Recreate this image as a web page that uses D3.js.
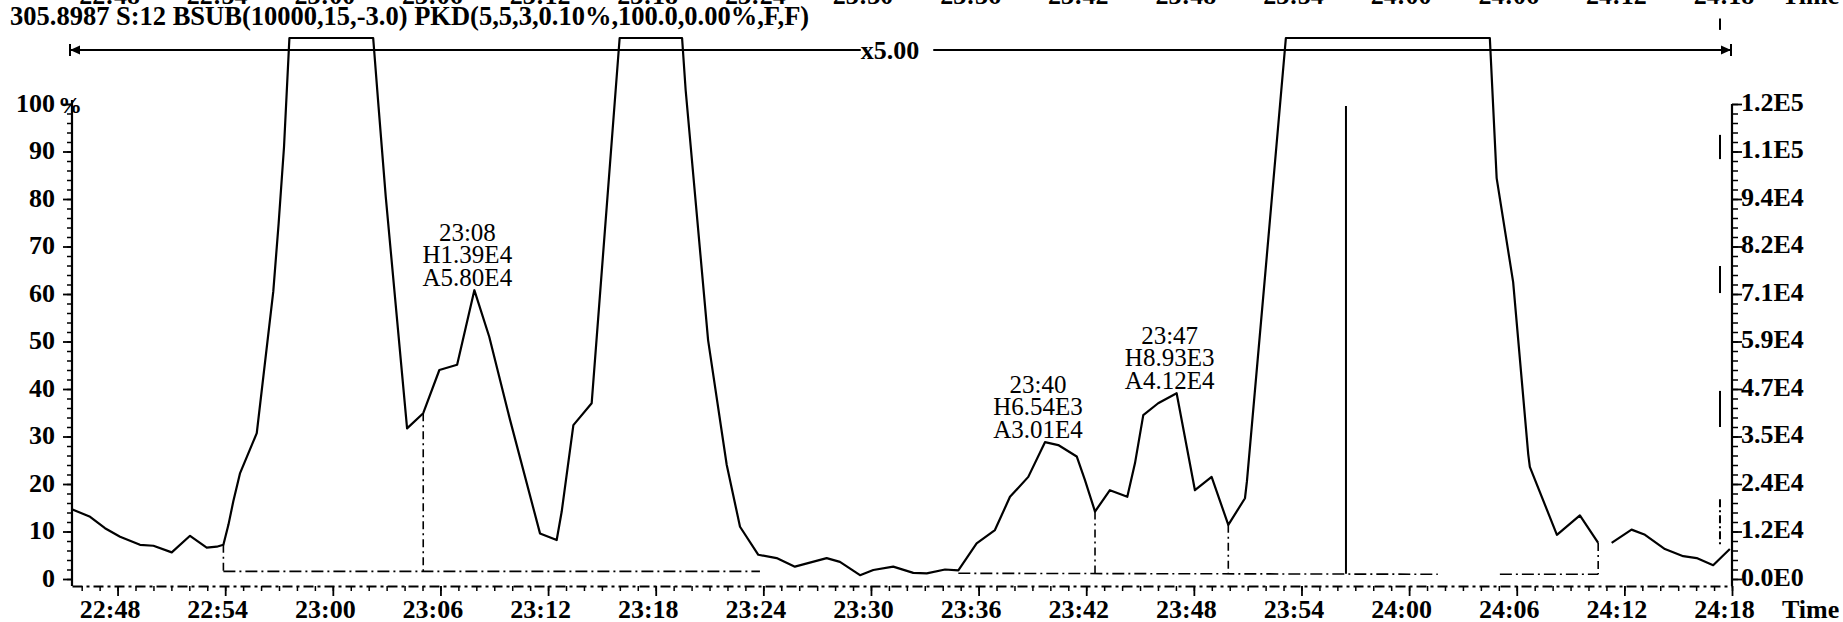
<!DOCTYPE html>
<html><head><meta charset="utf-8">
<script src="https://cdn.jsdelivr.net/npm/d3@7"></script>
<style>
html,body{margin:0;padding:0;background:#fff;}
svg{display:block;background:#fff;}
</style></head><body>
<svg id="chart" width="1843" height="622"></svg>
<script>
// ---------------- DATA ----------------
// times are minutes after 00:00 of the run day (22:48 = 1368, 24:18 = 1458)
const titleText = "305.8987 S:12 BSUB(10000,15,-3.0) PKD(5,5,3,0.10%,100.0,0.00%,F,F)";
const scaleText = "x5.00";

const traceTime = [1365.45,1366.47,1367.30,1368.14,1369.25,1370.00,1371.02,1372.04,1372.97,1373.53,
  1373.90,1374.18,1374.45,1374.83,1375.76,1376.68,1376.98,1377.28,1377.58,1382.25,
  1382.55,1382.95,1384.14,1385.04,1385.94,1386.93,1387.89,1388.72,1389.88,1391.55,
  1392.48,1392.76,1393.41,1394.43,1395.99,1399.47,1399.67,1400.92,1401.96,1402.70,
  1403.72,1404.74,1405.76,1407.53,1408.27,1409.39,1410.13,1411.24,1412.36,1413.11,
  1414.13,1414.87,1415.89,1416.91,1417.75,1418.77,1419.70,1420.44,1421.47,1421.93,
  1422.49,1423.32,1424.29,1424.72,1425.18,1426.01,1427.04,1427.60,1428.06,1428.99,
  1429.92,1430.85,1430.96,1431.96,1433.13,1444.50,1444.88,1445.80,1446.64,1446.73,
  1448.24,1449.52,1450.54,1450.90,1451.29,1452.40,1453.15,1454.26,1455.28,1456.03,
  1456.95,1457.88];
const traceValue = [14.7,13.1,10.7,8.9,7.2,7.0,5.6,9.1,6.6,6.8,
  7.2,11.4,16.3,22.3,30.7,60.5,74.9,91.0,113.9,113.9,
  99.4,80.5,31.7,34.9,44.0,45.1,60.8,51.0,33.5,9.6,
  8.2,14.2,32.4,37.0,113.9,113.9,102.9,50.3,24.0,11.0,
  5.1,4.4,2.6,4.4,3.6,0.8,1.9,2.6,1.3,1.2,
  2.0,1.8,7.5,10.3,17.3,21.5,28.8,28.2,25.8,20.8,
  14.2,18.7,17.3,24.4,34.5,37.0,39.1,27.9,18.7,21.5,
  11.4,17.0,20.6,63.4,113.9,113.9,84.4,62.5,26.3,23.6,
  9.3,13.4,7.6,null,7.6,10.4,9.3,6.3,4.8,4.4,
  2.9,6.3];

// integration baselines
const baseStart = [1373.90, 1414.87, 1445.06];
const baseEnd   = [1403.81, 1441.60, 1450.54];
const baseVStart = [1.6, 1.2, 1.0];
const baseVEnd   = [1.6, 1.0, 1.0];

// drop lines (peak boundaries)
const dropTime = [1373.90, 1385.04, 1422.49, 1429.92, 1450.54];
const dropTop  = [7.2, 34.9, 14.2, 11.4, 7.6];
const dropBottom = [1.6, 1.6, 1.1, 1.1, 1.0];

// peak annotations
const peakTime  = [1387.89, 1419.70, 1427.04];
const peakValue = [60.8, 28.8, 39.1];
const peakRT    = ["23:08", "23:40", "23:47"];
const peakH     = ["H1.39E4", "H6.54E3", "H8.93E3"];
const peakA     = ["A5.80E4", "A3.01E4", "A4.12E4"];

// event marker line
const markerTime = 1436.48, markerTop = 99.6, markerBottom = 1.1;

// short marks near right axis
const rightMarkTime = 1457.33;
const rightMarkTop    = [118.0, 93.5, 65.9, 39.6, 16.8];
const rightMarkBottom = [115.6, 88.4, 60.2, 32.0, 6.9];
const rightMarkDashed = [false, false, false, false, true];

// axes
const majorTicks = d3.range(1368, 1458.1, 6);
const minorTicks = d3.range(1366, 1458.1, 1);
const leftTicks = d3.range(0, 101, 10);
const leftMinor = d3.range(0, 101, 2);
const rightLabels = ["0.0E0","1.2E4","2.4E4","3.5E4","4.7E4","5.9E4","7.1E4","8.2E4","9.4E4","1.1E5","1.2E5"];

// ---------------- LAYOUT ----------------
const FONT = "'Liberation Serif','Times New Roman',serif";
const svg = d3.select("#chart");
const x = d3.scaleLinear().domain([1365.46, 1458]).range([72, 1732]);
const y = d3.scaleLinear().domain([0, 100]).range([579, 104]);
const axisY = 586;
const fmtTime = t => { const h = Math.floor(t / 60); const m = Math.round(t - h * 60); return h + ":" + String(m).padStart(2, "0"); };

// title
svg.append("text").attr("x", 10).attr("y", 25)
  .attr("font-family", FONT).attr("font-size", 26.5).attr("font-weight", "bold")
  .text(titleText);

// cut-off time labels at very top (from chart above)
svg.append("g").selectAll("text").data(majorTicks).join("text")
  .attr("x", d => x(d) - 8).attr("y", 4).attr("text-anchor", "middle")
  .attr("font-family", FONT).attr("font-size", 26).attr("font-weight", "bold")
  .text(fmtTime);
svg.append("text").attr("x", 1782).attr("y", 4)
  .attr("font-family", FONT).attr("font-size", 26).attr("font-weight", "bold").text("Time");

// scale bar (x5.00)
const sbY = 50, sbL = x.range()[0] - 2, sbR = x.range()[1] - 1;
const scaleLabel = svg.append("text").attr("x", 890).attr("y", sbY + 9).attr("text-anchor", "middle")
  .attr("font-family", FONT).attr("font-size", 26).attr("font-weight", "bold").text(scaleText);
const bb = scaleLabel.node().getBBox();
const sb = svg.append("g").attr("stroke", "#000").attr("stroke-width", 2);
sb.append("line").attr("x1", sbL).attr("x2", bb.x).attr("y1", sbY).attr("y2", sbY);
sb.append("line").attr("x1", bb.x + bb.width + 14).attr("x2", sbR).attr("y1", sbY).attr("y2", sbY);
sb.append("line").attr("x1", sbL).attr("x2", sbL).attr("y1", sbY - 6).attr("y2", sbY + 6);
sb.append("line").attr("x1", sbR).attr("x2", sbR).attr("y1", sbY - 6).attr("y2", sbY + 6);
svg.append("path").attr("d", `M${sbL},${sbY} L${sbL + 10},${sbY - 4.5} L${sbL + 10},${sbY + 4.5} Z`).attr("fill", "#000");
svg.append("path").attr("d", `M${sbR},${sbY} L${sbR - 10},${sbY - 4.5} L${sbR - 10},${sbY + 4.5} Z`).attr("fill", "#000");

// baselines
const bl = svg.append("g").attr("stroke", "#000").attr("stroke-width", 1.6).attr("stroke-dasharray", "12,4,2,4");
baseStart.forEach((s, i) => {
  bl.append("line").attr("x1", x(s)).attr("x2", x(baseEnd[i]))
    .attr("y1", y(baseVStart[i])).attr("y2", y(baseVEnd[i]));
});
// drop lines
const dl = svg.append("g").attr("stroke", "#000").attr("stroke-width", 1.6).attr("stroke-dasharray", "8,4,2,4");
dropTime.forEach((t, i) => {
  dl.append("line").attr("x1", x(t)).attr("x2", x(t)).attr("y1", y(dropTop[i])).attr("y2", y(dropBottom[i]));
});

// marker line
svg.append("line").attr("x1", x(markerTime)).attr("x2", x(markerTime))
  .attr("y1", y(markerTop)).attr("y2", y(markerBottom)).attr("stroke", "#000").attr("stroke-width", 2);

// right-side marks
rightMarkTop.forEach((v, i) => {
  svg.append("line").attr("x1", x(rightMarkTime)).attr("x2", x(rightMarkTime))
    .attr("y1", y(v)).attr("y2", y(rightMarkBottom[i]))
    .attr("stroke", "#000").attr("stroke-width", 2)
    .attr("stroke-dasharray", rightMarkDashed[i] ? "8,3,2,3" : null);
});

// trace
const pts = traceTime.map((t, i) => ({ t, v: traceValue[i] }));
svg.append("path").datum(pts)
  .attr("d", d3.line().defined(d => d.v !== null).x(d => x(d.t)).y(d => y(d.v)))
  .attr("fill", "none").attr("stroke", "#000").attr("stroke-width", 2.2).attr("stroke-linejoin", "round");

// peak labels
peakTime.forEach((t, i) => {
  const cx = x(t) - 7, by = y(peakValue[i]) - 4.5;
  [peakRT[i], peakH[i], peakA[i]].forEach((s, j) => {
    svg.append("text").attr("x", cx).attr("y", by - (2 - j) * 22.5).attr("text-anchor", "middle")
      .attr("font-family", FONT).attr("font-size", 25).text(s);
  });
});

// x axis
const gxMinor = svg.append("g").attr("transform", `translate(0,${axisY})`)
  .call(d3.axisBottom(x).tickValues(minorTicks).tickSize(5).tickSizeOuter(0).tickFormat(""));
gxMinor.select(".domain").attr("stroke-width", 2).attr("stroke-dasharray", "10,4,3,4");
gxMinor.selectAll(".tick line").attr("stroke-width", 1.5);
const gxMajor = svg.append("g").attr("transform", `translate(0,${axisY})`)
  .call(d3.axisBottom(x).tickValues(majorTicks).tickSize(10).tickSizeOuter(0).tickFormat(fmtTime));
gxMajor.select(".domain").remove();
gxMajor.selectAll(".tick line").attr("stroke-width", 1.8);
gxMajor.attr("font-family", FONT).attr("font-size", 26).attr("font-weight", "bold");
gxMajor.selectAll("text").attr("y", 32).attr("dy", null).attr("dx", -8).attr("fill", "#000");
svg.append("text").attr("x", 1782).attr("y", axisY + 32)
  .attr("font-family", FONT).attr("font-size", 26).attr("font-weight", "bold").text("Time");

// left axis
svg.append("line").attr("x1", x.range()[0]).attr("x2", x.range()[0]).attr("y1", y(100) - 4).attr("y2", axisY)
  .attr("stroke", "#000").attr("stroke-width", 2.2);
const glMinor = svg.append("g").attr("transform", `translate(${x.range()[0]},0)`)
  .call(d3.axisLeft(y).tickValues(leftMinor).tickSize(5).tickSizeOuter(0).tickFormat(""));
glMinor.select(".domain").remove();
glMinor.selectAll(".tick line").attr("stroke-width", 1.5);
const glMajor = svg.append("g").attr("transform", `translate(${x.range()[0]},0)`)
  .call(d3.axisLeft(y).tickValues(leftTicks).tickSize(9).tickSizeOuter(0).tickFormat(d => d));
glMajor.select(".domain").remove();
glMajor.attr("font-family", FONT).attr("font-size", 26).attr("font-weight", "bold");
glMajor.selectAll("text").attr("x", -17).attr("dy", null).attr("y", 7).attr("fill", "#000");
glMajor.selectAll(".tick line").attr("stroke-width", 1.8);
svg.append("text").attr("x", x.range()[0] - 14).attr("y", y(100) + 9)
  .attr("font-family", FONT).attr("font-size", 24).attr("font-weight", "bold").text("%");

// right axis
svg.append("line").attr("x1", x.range()[1]).attr("x2", x.range()[1]).attr("y1", y(100)).attr("y2", axisY)
  .attr("stroke", "#000").attr("stroke-width", 2.2);
const grMinor = svg.append("g").attr("transform", `translate(${x.range()[1]},0)`)
  .call(d3.axisRight(y).tickValues(leftMinor).tickSize(6).tickSizeOuter(0).tickFormat(""));
grMinor.select(".domain").remove();
grMinor.selectAll(".tick line").attr("stroke-width", 1.5);
const grMajor = svg.append("g").attr("transform", `translate(${x.range()[1]},0)`)
  .call(d3.axisRight(y).tickValues(leftTicks).tickSize(10).tickSizeOuter(0).tickFormat((d, i) => rightLabels[i]));
grMajor.select(".domain").remove();
grMajor.attr("font-family", FONT).attr("font-size", 26).attr("font-weight", "bold");
grMajor.selectAll("text").attr("x", 9).attr("dy", null).attr("y", 6).attr("fill", "#000");
grMajor.selectAll(".tick line").attr("stroke-width", 1.8);
</script>
</body></html>
